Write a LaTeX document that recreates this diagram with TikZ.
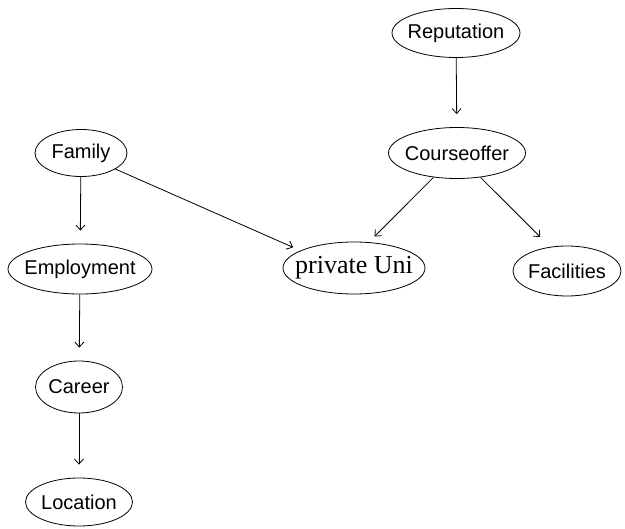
\documentclass[tikz,border=0pt]{standalone}
\usepackage{fontspec}
\setmainfont{Liberation Sans}
\newfontfamily\serifuni{Liberation Serif}
\usetikzlibrary{shapes.geometric,arrows.meta}
\tikzset{
  var/.style={draw=black, line width=0.8pt, ellipse, inner sep=0pt},
  txt/.style={font=\fontsize{20}{22}\selectfont, inner sep=0pt},
  edge/.style={draw=black, line width=0.8pt, -{Straight Barb[length=5pt,width=9pt]}, shorten >=13pt},
}
\begin{document}
\begin{tikzpicture}[x=1pt,y=-1pt]
\useasboundingbox (0,0) rectangle (625,529);
\node[var, minimum width=128pt, minimum height=49pt, label={[txt]center:Reputation}] (rep) at (456,33) {};
\node[var, minimum width=137pt, minimum height=51pt, label={[txt]center:Courseoffer}] (co) at (457,153) {};
\node[var, minimum width=92pt, minimum height=47pt, label={[txt]center:Family}] (fam) at (81,153) {};
\node[var, minimum width=144pt, minimum height=50pt, label={[txt]center:Employment}] (emp) at (80,269) {};
\node[var, minimum width=142pt, minimum height=52pt, label={[txt, font=\serifuni\fontsize{26}{28}\selectfont]center:private Uni}] (pu) at (354,268) {};
\node[var, minimum width=108pt, minimum height=50pt, label={[txt]center:Facilities}] (fac) at (567,271) {};
\node[var, minimum width=87pt, minimum height=52pt, label={[txt]center:Career}] (car) at (79,387) {};
\node[var, minimum width=107pt, minimum height=48pt, label={[txt]center:Location}] (loc) at (79,502) {};

\draw[edge] (rep) -- (co);
\draw[edge] (fam) -- (emp);
\draw[edge] (emp) -- (car);
\draw[edge] (car) -- (loc);
\draw[edge, shorten >=8pt] (fam.335) -- (pu.162);
\draw[edge, shorten >=8pt] (co.226) -- (pu.60);
\draw[edge, shorten >=14pt] (co.314) -- (fac.125);
\end{tikzpicture}
\end{document}
